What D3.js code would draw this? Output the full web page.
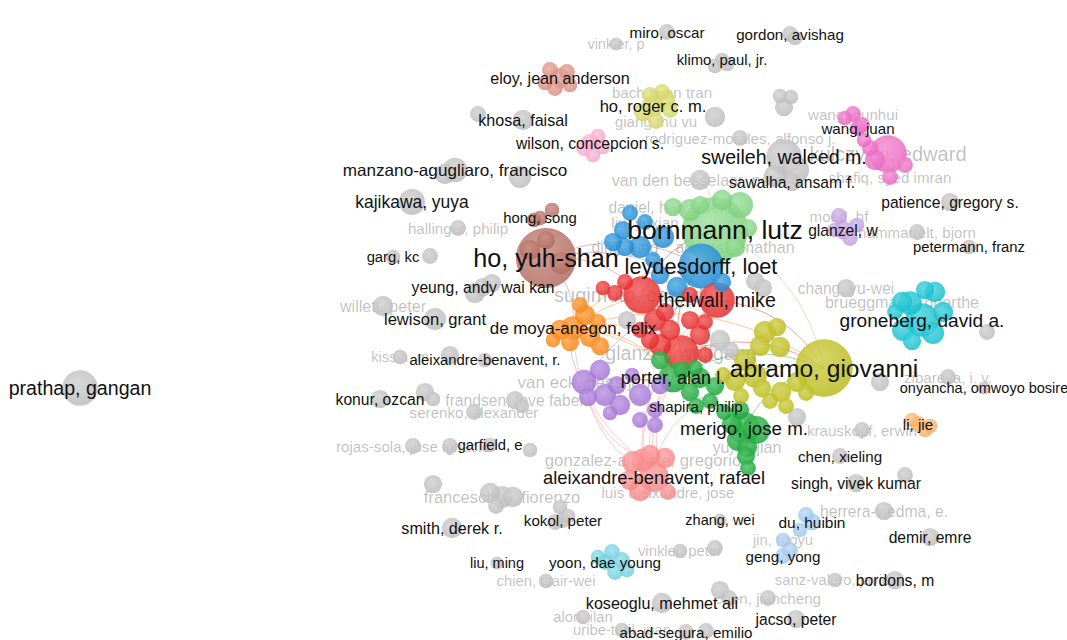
<!DOCTYPE html>
<html>
<head>
<meta charset="utf-8">
<script src="https://cdn.jsdelivr.net/npm/d3@7"></script>
<style>
  html, body { margin: 0; padding: 0; background: #fff; }
  svg text { font-family: "Liberation Sans", Arial, sans-serif; }
</style>
</head>
<body>
<script>
// co-authorship map, map coordinates in layout units, w = weight (documents)
// cluster ids: 0 grey, 1 red, 2 green, 3 blue, 4 yellow, 5 purple, 6 cyan, 7 orange,
// 8 brown, 9 pink, 10 light green, 11 salmon, 12 pale yellow, 13 rose, 14 light pink,
// 15 light orange, 16 light blue, 17 light cyan, 18 lavender

// authors whose label is shown in full
const labelled = [
  ["prathap, gangan", 80, 388, 32, 0],
  ["manzano-agugliaro, francisco", 455, 170, 14, 0],
  ["kajikawa, yuya", 412, 202, 16, 0],
  ["garg, kc", 393, 257, 4, 0],
  ["yeung, andy wai kan", 483, 287, 7, 0],
  ["lewison, grant", 435, 319, 11, 0],
  ["aleixandre-benavent, r.", 485, 360, 4, 0],
  ["konur, ozcan", 380, 399, 7, 0],
  ["garfield, e", 490, 445, 4, 0],
  ["smith, derek r.", 452, 528, 9, 0],
  ["kokol, peter", 563, 520, 5, 0],
  ["liu, ming", 497, 563, 3, 0],
  ["yoon, dae young", 605, 562, 5, 17],
  ["koseoglu, mehmet ali", 662, 603, 9, 0],
  ["abad-segura, emilio", 686, 632, 5, 0],
  ["zhang, wei", 720, 520, 3, 0],
  ["du, huibin", 812, 522, 6, 16],
  ["geng, yong", 783, 556, 5, 16],
  ["jacso, peter", 796, 619, 7, 0],
  ["bordons, m", 895, 580, 7, 0],
  ["demir, emre", 930, 537, 7, 0],
  ["singh, vivek kumar", 856, 483, 7, 0],
  ["chen, xieling", 840, 456, 5, 0],
  ["li, jie", 918, 424, 5, 15],
  ["onyancha, omwoyo bosire", 984, 388, 3, 0],
  ["groneberg, david a.", 922, 320, 28, 6],
  ["abramo, giovanni", 824, 368, 90, 4],
  ["merigo, jose m.", 744, 428, 25, 2],
  ["shapira, philip", 696, 406, 5, 2],
  ["porter, alan l.", 673, 378, 20, 2],
  ["aleixandre-benavent, rafael", 654, 477, 22, 11],
  ["de moya-anegon, felix", 573, 328, 13, 7],
  ["thelwall, mike", 717, 300, 32, 1],
  ["leydesdorff, loet", 701, 266, 53, 3],
  ["bornmann, lutz", 715, 230, 120, 10],
  ["ho, yuh-shan", 546, 258, 99, 8],
  ["hong, song", 540, 218, 4, 8],
  ["glanzel, w", 843, 230, 7, 18],
  ["patience, gregory s.", 950, 202, 7, 0],
  ["petermann, franz", 969, 247, 4, 0],
  ["sweileh, waleed m.", 784, 157, 32, 0],
  ["sawalha, ansam f.", 792, 182, 7, 0],
  ["wang, juan", 858, 128, 5, 9],
  ["ho, roger c. m.", 653, 106, 11, 12],
  ["khosa, faisal", 523, 120, 9, 0],
  ["wilson, concepcion s.", 590, 143, 7, 14],
  ["eloy, jean anderson", 560, 78, 9, 13],
  ["miro, oscar", 667, 32, 5, 0],
  ["klimo, paul, jr.", 722, 60, 4, 0],
  ["gordon, avishag", 790, 34, 5, 0]
];

// authors whose label is drawn faded (overlapping)
const faded = [
  ["vinkler, p", 616, 44, 3, 0],
  ["bach xuan tran", 662, 92, 5, 12],
  ["giang thu vu", 656, 121, 5, 12],
  ["rodriguez-morales, alfonso j.", 740, 138, 5, 0],
  ["wang, qunhui", 853, 114, 5, 9],
  ["kulczycki, edward", 888, 154, 36, 9],
  ["shafiq, syed imran", 890, 177, 5, 9],
  ["moed, hf", 839, 216, 5, 18],
  ["hammarfelt, bjorn", 917, 232, 5, 0],
  ["chang, yu-wei", 846, 288, 7, 0],
  ["brueggmann, doerthe", 902, 302, 9, 6],
  ["zibareva, i. v.", 948, 377, 5, 0],
  ["krauskopf, erwin", 862, 430, 5, 0],
  ["herrera-viedma, e.", 884, 511, 7, 0],
  ["jin, ruoyu", 783, 540, 4, 16],
  ["sanz-valero, javier", 835, 580, 4, 0],
  ["chen, jiancheng", 768, 598, 5, 0],
  ["vinkler, peter", 680, 551, 4, 0],
  ["alon, ilan", 583, 617, 4, 0],
  ["uribe-toril, juan", 622, 630, 4, 0],
  ["chien, tsair-wei", 546, 581, 4, 0],
  ["franceschini, fiorenzo", 502, 497, 11, 0],
  ["rojas-sola, jose ignacio", 413, 446, 5, 0],
  ["serenko, alexander", 474, 412, 5, 0],
  ["frandsen, tove faber", 515, 400, 7, 0],
  ["van eck, nees jan", 584, 382, 14, 5],
  ["kissin, m", 400, 357, 4, 0],
  ["willett, peter", 383, 306, 9, 0],
  ["hallinger, philip", 458, 228, 5, 0],
  ["sugimoto, cassidy r.", 642, 295, 36, 1],
  ["ding, ying", 625, 247, 7, 3],
  ["liu, yuxian", 645, 222, 5, 3],
  ["daniel, hans-dieter", 673, 207, 7, 10],
  ["adams, jonathan", 735, 247, 9, 10],
  ["van den besselaar, peter", 700, 180, 9, 0],
  ["glanzel, wolfgang", 681, 353, 32, 1],
  ["gonzalez-alcaide, gregorio", 643, 460, 12, 11],
  ["luis aleixandre, jose", 668, 492, 5, 11],
  ["yu, dejian", 747, 447, 9, 2]
];

// authors without a label: x, y, weight, cluster
const unlabelled = [
  [795, 38, 4, 0], [715, 66, 4, 0], [727, 64, 4, 0], [780, 96, 4, 0], [791, 97, 4, 0],
  [784, 107, 7, 0], [715, 117, 9, 0], [478, 114, 5, 0], [520, 177, 11, 0], [445, 174, 9, 0],
  [430, 256, 5, 0], [475, 293, 9, 0], [492, 283, 7, 0], [450, 355, 7, 0], [425, 392, 7, 0],
  [433, 399, 4, 0], [522, 406, 4, 0], [450, 446, 5, 0], [530, 450, 4, 0], [433, 484, 7, 0],
  [490, 493, 9, 0], [513, 497, 9, 0], [496, 506, 5, 0], [560, 507, 4, 0], [555, 522, 5, 0],
  [568, 516, 4, 0], [706, 631, 5, 0], [715, 548, 5, 0], [720, 590, 7, 0], [729, 598, 5, 0],
  [797, 417, 7, 0], [905, 475, 5, 0], [880, 382, 7, 0], [987, 332, 5, 0], [755, 281, 7, 0],
  [763, 288, 7, 0], [795, 170, 19, 0], [775, 176, 11, 0], [720, 340, 9, 0], [731, 350, 5, 0],
  [627, 320, 7, 0],
  // brown
  [552, 210, 4, 8], [534, 220, 4, 8], [530, 250, 9, 8], [561, 263, 11, 8], [546, 240, 7, 8],
  // rose
  [550, 70, 5, 13], [567, 72, 5, 13], [555, 88, 5, 13], [570, 85, 4, 13], [545, 83, 4, 13],
  // pale yellow
  [643, 112, 7, 12], [665, 100, 9, 12], [670, 110, 5, 12], [650, 95, 5, 12],
  // light pink
  [584, 148, 5, 14], [598, 136, 4, 14], [593, 155, 4, 14], [603, 147, 4, 14],
  // pink
  [845, 118, 4, 9], [862, 125, 5, 9], [864, 140, 4, 9], [905, 165, 5, 9], [875, 160, 9, 9], [870, 148, 5, 9],
  // lavender
  [850, 238, 5, 18], [835, 230, 4, 18], [857, 225, 4, 18],
  // cyan
  [910, 303, 13, 6], [935, 292, 9, 6], [903, 330, 11, 6], [933, 333, 11, 6], [912, 341, 7, 6],
  [943, 312, 9, 6], [895, 312, 5, 6], [925, 290, 7, 6],
  // light orange
  [925, 430, 4, 15], [912, 420, 4, 15], [930, 426, 4, 15],
  // light blue
  [806, 515, 5, 16], [800, 530, 4, 16], [790, 550, 5, 16],
  // light cyan
  [612, 552, 5, 17], [622, 560, 5, 17], [598, 557, 4, 17], [615, 572, 5, 17], [627, 570, 4, 17],
  // light green
  [740, 205, 16, 10], [690, 210, 11, 10], [722, 200, 9, 10], [748, 228, 7, 10], [700, 205, 7, 10],
  // blue
  [630, 213, 5, 3], [613, 242, 7, 3], [623, 230, 7, 3], [640, 247, 11, 3], [663, 237, 11, 3],
  [677, 287, 9, 3], [653, 260, 5, 3], [722, 282, 7, 3], [660, 275, 7, 3],
  // red
  [603, 288, 4, 1], [615, 293, 5, 1], [655, 320, 11, 1], [670, 330, 9, 1], [690, 320, 7, 1],
  [700, 335, 9, 1], [660, 345, 11, 1], [640, 330, 5, 1], [705, 322, 5, 1], [665, 312, 7, 1],
  [650, 340, 7, 1], [705, 355, 5, 1], [625, 282, 5, 1], [690, 295, 5, 1],
  // orange
  [560, 330, 9, 7], [585, 315, 9, 7], [590, 337, 9, 7], [570, 342, 7, 7], [600, 346, 7, 7],
  [598, 322, 5, 7], [580, 305, 5, 7], [553, 340, 4, 7],
  // purple
  [605, 395, 11, 5], [617, 385, 7, 5], [588, 397, 7, 5], [620, 405, 9, 5], [640, 395, 11, 5],
  [655, 410, 5, 5], [640, 420, 5, 5], [655, 425, 5, 5], [610, 413, 4, 5], [632, 375, 4, 5],
  [600, 370, 9, 5], [660, 385, 7, 5],
  // green
  [660, 360, 7, 2], [682, 370, 7, 2], [700, 378, 9, 2], [690, 392, 7, 2], [715, 386, 7, 2],
  [710, 401, 5, 2], [724, 412, 5, 2], [756, 430, 19, 2], [738, 440, 11, 2], [746, 456, 7, 2],
  [748, 468, 5, 2], [732, 424, 9, 2], [695, 368, 5, 2], [740, 410, 7, 2],
  // yellow
  [765, 332, 11, 4], [777, 327, 7, 4], [760, 346, 9, 4], [780, 347, 9, 4], [745, 360, 11, 4],
  [755, 376, 13, 4], [735, 381, 9, 4], [762, 388, 7, 4], [781, 392, 9, 4], [797, 382, 9, 4],
  [806, 393, 5, 4], [786, 406, 5, 4], [770, 401, 5, 4], [741, 396, 5, 4], [723, 375, 5, 4],
  // salmon
  [633, 462, 11, 11], [665, 458, 9, 11], [640, 490, 11, 11], [650, 455, 9, 11], [630, 480, 9, 11]
];

// co-authorship links between authors (by name)
const links = [
  ["bornmann, lutz", "leydesdorff, loet"], ["bornmann, lutz", "thelwall, mike"],
  ["leydesdorff, loet", "thelwall, mike"], ["ho, yuh-shan", "thelwall, mike"],
  ["ho, yuh-shan", "de moya-anegon, felix"], ["ho, yuh-shan", "leydesdorff, loet"],
  ["de moya-anegon, felix", "thelwall, mike"], ["de moya-anegon, felix", "abramo, giovanni"],
  ["de moya-anegon, felix", "porter, alan l."], ["glanzel, wolfgang", "abramo, giovanni"],
  ["porter, alan l.", "abramo, giovanni"], ["merigo, jose m.", "abramo, giovanni"],
  ["aleixandre-benavent, rafael", "porter, alan l."], ["aleixandre-benavent, rafael", "van eck, nees jan"],
  ["aleixandre-benavent, rafael", "thelwall, mike"], ["van eck, nees jan", "thelwall, mike"],
  ["shapira, philip", "abramo, giovanni"], ["van den besselaar, peter", "bornmann, lutz"],
  ["sugimoto, cassidy r.", "bornmann, lutz"], ["daniel, hans-dieter", "leydesdorff, loet"],
  ["merigo, jose m.", "yu, dejian"], ["glanzel, wolfgang", "leydesdorff, loet"],
  ["thelwall, mike", "abramo, giovanni"], ["bornmann, lutz", "abramo, giovanni"],
  ["ho, yuh-shan", "sugimoto, cassidy r."], ["de moya-anegon, felix", "glanzel, wolfgang"],
  ["van eck, nees jan", "merigo, jose m."], ["gonzalez-alcaide, gregorio", "de moya-anegon, felix"],
  ["gonzalez-alcaide, gregorio", "glanzel, wolfgang"], ["van eck, nees jan", "de moya-anegon, felix"],
  ["de moya-anegon, felix", "shapira, philip"], ["de moya-anegon, felix", "leydesdorff, loet"],
  ["gonzalez-alcaide, gregorio", "thelwall, mike"], ["luis aleixandre, jose", "porter, alan l."],
  ["aleixandre-benavent, rafael", "shapira, philip"], ["gonzalez-alcaide, gregorio", "van eck, nees jan"],
  ["porter, alan l.", "leydesdorff, loet"], ["shapira, philip", "merigo, jose m."]
];

const palette = ["#c4c4c4", "#ee2a2a", "#19ad3a", "#1d8fdc", "#c2c21c", "#a977dc", "#14c6d6",
  "#ff8a14", "#b86e62", "#f26bc8", "#82d882", "#ff8c8c", "#dcdc6a", "#e09284", "#ffaed2",
  "#ffb46a", "#a6cdf2", "#76d6e6", "#c8a4e4"];

const W = 1067, H = 640;
const x = d3.scaleLinear().domain([0, 1067]).range([0, W]);
const y = d3.scaleLinear().domain([0, 640]).range([0, H]);
const rScale = d3.scaleSqrt().domain([0, 120]).range([1.5, 33]);
const fontScale = d3.scaleSqrt().domain([3, 120]).range([14.5, 26.5]).clamp(true);

const nodes = [
  ...labelled.map(d => ({ name: d[0], x: d[1], y: d[2], w: d[3], c: d[4], lab: 1 })),
  ...faded.map(d => ({ name: d[0], x: d[1], y: d[2], w: d[3], c: d[4], lab: 2 })),
  ...unlabelled.map(d => ({ name: null, x: d[0], y: d[1], w: d[2], c: d[3], lab: 0 }))
];
const byName = new Map(nodes.filter(d => d.name).map(d => [d.name, d]));

const svg = d3.select('body').append('svg')
  .attr('width', W).attr('height', H);
svg.append('rect').attr('width', W).attr('height', H).attr('fill', '#fff');

// sphere-like gradients, one per cluster
const defs = svg.append('defs');
palette.forEach((col, i) => {
  const g = defs.append('radialGradient').attr('id', 'g' + i)
    .attr('cx', '45%').attr('cy', '40%').attr('r', '60%').attr('fx', '40%').attr('fy', '35%');
  g.append('stop').attr('offset', '0%').attr('stop-color', d3.interpolateRgb(col, '#fff')(0.22));
  g.append('stop').attr('offset', '100%').attr('stop-color', d3.interpolateRgb(col, '#000')(0.04));
});

// links
svg.append('g').attr('fill', 'none')
  .selectAll('path').data(links).join('path')
  .attr('d', ([a, b]) => {
    const s = byName.get(a), t = byName.get(b);
    const x1 = x(s.x), y1 = y(s.y), x2 = x(t.x), y2 = y(t.y);
    const mx = (x1 + x2) / 2, my = (y1 + y2) / 2;
    const cx = mx + (y2 - y1) * 0.25, cy = my - (x2 - x1) * 0.25;
    return `M${x1},${y1}Q${cx},${cy} ${x2},${y2}`;
  })
  .attr('stroke', ([a]) => palette[byName.get(a).c])
  .attr('stroke-opacity', 0.45)
  .attr('stroke-width', 1);

const labelFont = d => fontScale(d.w) + 'px';

// faded labels sit under the bubbles
svg.append('g').selectAll('text').data(nodes.filter(d => d.lab === 2)).join('text')
  .attr('x', d => x(d.x)).attr('y', d => y(d.y))
  .attr('text-anchor', 'middle').attr('dominant-baseline', 'central')
  .attr('font-size', labelFont)
  .attr('fill', '#000').attr('fill-opacity', 0.26)
  .text(d => d.name);

// bubbles, smallest on top
svg.append('g').selectAll('circle')
  .data(nodes.slice().sort((a, b) => b.w - a.w)).join('circle')
  .attr('cx', d => x(d.x)).attr('cy', d => y(d.y))
  .attr('r', d => rScale(d.w))
  .attr('fill', d => `url(#g${d.c})`)
  .attr('fill-opacity', 0.84);

// full labels
svg.append('g').selectAll('text').data(nodes.filter(d => d.lab === 1)).join('text')
  .attr('x', d => x(d.x)).attr('y', d => y(d.y))
  .attr('text-anchor', 'middle').attr('dominant-baseline', 'central')
  .attr('font-size', labelFont)
  .attr('fill', '#111')
  .text(d => d.name);
</script>
</body>
</html>
